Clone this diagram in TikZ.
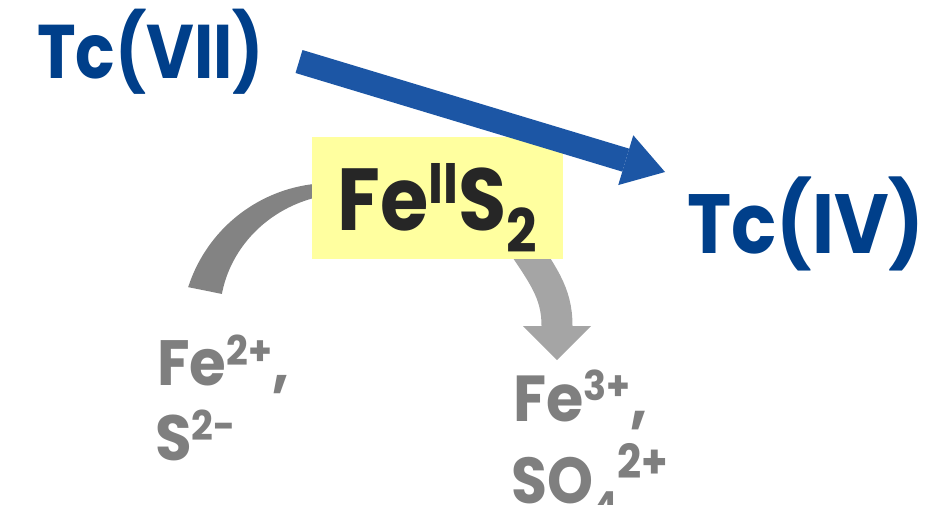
\documentclass[tikz,border=0pt]{standalone}
\usepackage{fontspec}
\setmainfont{Poppins}
\usetikzlibrary{arrows.meta}
\definecolor{tcblue}{HTML}{003F8A}
\definecolor{arrblue}{HTML}{1C56A5}
\definecolor{boxyellow}{HTML}{FFFF9F}
\definecolor{fesdark}{HTML}{262626}
\definecolor{txtgray}{HTML}{7F7F7F}
\definecolor{arcgray}{HTML}{838383}
\definecolor{arrgray}{HTML}{A5A5A5}
\newcommand{\fsz}[1]{\fontsize{#1}{#1}\selectfont}
\newcommand{\squeeze}[2]{\scalebox{#1}[1]{#2}}
\begin{document}
\begin{tikzpicture}[x=1pt,y=-1pt,
  lbl/.style={inner sep=0pt, anchor=base west},
  tclbl/.style={lbl, text=tcblue},
  graylbl/.style={lbl, text=txtgray},
  bluearrow/.style={draw=arrblue, line width=24pt,
    -{Triangle[length=41pt,width=52pt,line width=0pt]}},
  grayarrow/.style={draw=arrgray, line width=31pt,
    -{Triangle[length=34pt,width=68pt,line width=0pt]}}]
\useasboundingbox (0,0) rectangle (931,504);

% left curved band (under the box)
\fill[arcgray]
  plot[domain=197.8:272,samples=50] ({331+150*cos(\x)},{333+150*sin(\x)})
  -- plot[domain=272:199.7,samples=50] ({331+(116+0.32*(\x-200))*cos(\x)},{333+(116+0.32*(\x-200))*sin(\x)})
  -- cycle;

% right gray arrow (starts under the box)
\coordinate (g1) at (514,232);
\coordinate (g2) at (557,360);
\draw[grayarrow] (g1) .. controls (543,275) and (557,292) .. (g2);

% FeS2 box
\node[fill=boxyellow, inner sep=0pt, minimum width=251pt, text height=93pt, text depth=29pt,
      anchor=base, text=fesdark, font=\bfseries] (fes2) at (437.5,230)
  {\squeeze{0.89}{\fsz{88}Fe\raisebox{27pt}{\fsz{57}II}S\raisebox{-22pt}{\fsz{60}2}}};

% labels
\node[tclbl, font=\bfseries\fsz{76}] (tc7) at (37,78) {\squeeze{0.86}{Tc(VII)}};
\node[tclbl, font=\bfseries\fsz{84}] (tc4) at (687,253) {\squeeze{0.89}{Tc(IV)}};

\node[graylbl, font=\bfseries\fsz{64}] (fe2) at (157,385) {\squeeze{0.93}{Fe\raisebox{20pt}{\fsz{41}2+},}};
\node[graylbl, font=\bfseries\fsz{64}] (s2) at (155,460) {\squeeze{0.93}{S\raisebox{20pt}{\fsz{41}2-}}};
\node[graylbl, font=\bfseries\fsz{65}] (fe3) at (513,421) {\squeeze{0.93}{Fe\raisebox{21pt}{\fsz{41}3+},}};
\node[graylbl, font=\bfseries\fsz{65}] (so4) at (511,503) {\squeeze{0.9}{SO\raisebox{-17pt}{\fsz{40}4}\raisebox{25pt}{\fsz{47}2+}}};

% blue reaction arrow
\coordinate (b1) at (299,61.5);
\coordinate (b2) at (665,172);
\draw[bluearrow] (b1) -- (b2);
\end{tikzpicture}
\end{document}
